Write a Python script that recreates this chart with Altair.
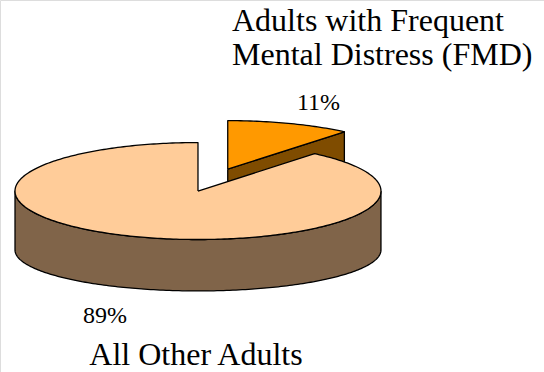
import math
import altair as alt
import pandas as pd

# ---- data ----
categories = ["Adults with Frequent Mental Distress (FMD)", "All Other Adults"]
shares = [11, 89]
pct_labels = ["11%", "89%"]
cat_label_lines = [["Adults with Frequent", "Mental Distress (FMD)"], ["All Other Adults"]]

# ---- style ----
top_colors = ["#FF9900", "#FFCC99"]
side_colors = ["#7F4C00", "#806449"]
TILT_TOP = 0.265      # vertical squash of the top face
TILT_BOTTOM = 0.224   # vertical squash of the bottom rim
DROP = 0.322          # thickness of the pie
EXPLODE = [0.48, 0.0]
START = 90.0          # first slice starts at 12 o'clock, clockwise


def rim(a, top=True, off=(0.0, 0.0)):
    r = math.radians(a)
    if top:
        return math.cos(r) + off[0], TILT_TOP * math.sin(r) + off[1]
    return math.cos(r) + off[0], TILT_BOTTOM * math.sin(r) - DROP + off[1]


def arc(a0, a1, top=True, off=(0.0, 0.0)):
    n = max(2, int(abs(a1 - a0)) + 1)
    return [rim(a0 + (a1 - a0) * k / (n - 1), top, off) for k in range(n)]


rows = []
draw = []  # (piece id, fill)
slices = []
start = START
total = float(sum(shares))
for idx, s in enumerate(shares):
    end = start - s / total * 360.0
    mid = (start + end) / 2
    mr = math.radians(mid)
    off = (EXPLODE[idx] * math.cos(mr), EXPLODE[idx] * TILT_TOP * math.sin(mr))
    slices.append((idx, start, end, mid, off))
    start = end

# back slices first
slices.sort(key=lambda t: -math.sin(math.radians(t[3])))


def add_poly(pid, pts, fill):
    pts = pts + [pts[0]]
    for i, (x, y) in enumerate(pts):
        rows.append({"piece": pid, "i": i, "x": x, "y": y})
    draw.append((pid, fill))


for idx, st, en, mid, off in slices:
    c_top = (off[0], off[1])
    c_bot = (off[0], off[1] - DROP)
    # cut face at start angle
    if math.cos(math.radians(st)) < -1e-9:
        add_poly(f"s{idx}a", [c_top, rim(st, True, off), rim(st, False, off), c_bot], side_colors[idx])
    # cut face at end angle
    if math.cos(math.radians(en)) > 1e-9:
        add_poly(f"s{idx}b", [c_top, rim(en, True, off), rim(en, False, off), c_bot], side_colors[idx])
    # outer wall, front half only
    for k in (-360, 0, 360):
        lo = max(en, -180 + k)
        hi = min(st, 0 + k)
        if hi - lo > 0.5:
            pts = arc(hi, lo, True, off) + arc(lo, hi, False, off)
            add_poly(f"w{idx}_{k}", pts, side_colors[idx])
    # top face
    add_poly(f"t{idx}", [c_top] + arc(st, en, True, off), top_colors[idx])

df = pd.DataFrame(rows)

xs = alt.Scale(domain=[-1.082, 1.891], nice=False, zero=False)
ys = alt.Scale(domain=[-0.989, 1.044], nice=False, zero=False)

base = alt.Chart(df)
layers = []
for pid, fill in draw:
    layers.append(
        base.transform_filter(alt.datum.piece == pid)
        .mark_line(fill=fill, stroke="black", strokeWidth=1.3, strokeJoin="round", interpolate="linear")
        .encode(
            x=alt.X("x:Q", scale=xs, axis=None),
            y=alt.Y("y:Q", scale=ys, axis=None),
            order=alt.Order("i:Q"),
        )
    )

FONT = "Liberation Serif"
cat_df = pd.DataFrame({
    "t": cat_label_lines[0] + cat_label_lines[1],
    "px": [232, 232, 196],
    "py": [31, 65, 365],
    "al": ["left", "left", "center"],
})
for _, r in cat_df.iterrows():
    layers.append(
        alt.Chart(pd.DataFrame({"t": [r["t"]]}))
        .mark_text(font=FONT, fontSize=32, align=r["al"], baseline="alphabetic", color="black")
        .encode(text="t:N", x=alt.value(r["px"]), y=alt.value(r["py"]))
    )

pct_pos = [(297, 110), (83, 323)]
for lbl, (px, py) in zip(pct_labels, pct_pos):
    layers.append(
        alt.Chart(pd.DataFrame({"t": [lbl]}))
        .mark_text(font=FONT, fontSize=24, align="left", baseline="alphabetic", color="black")
        .encode(text="t:N", x=alt.value(px), y=alt.value(py))
    )

chart = (
    alt.layer(*layers)
    .properties(width=544, height=372, autosize=alt.AutoSizeParams(type="none"), padding=0)
    .configure_view(strokeWidth=0)
    .configure(background="white")
)

chart.save("out.html", embed_options={"renderer": "svg", "actions": False})
